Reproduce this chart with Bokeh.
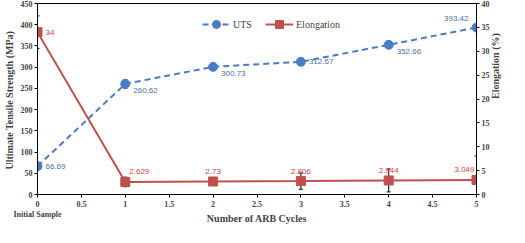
from math import pi
from bokeh.plotting import figure
from bokeh.models import Range1d, LinearAxis, Whisker, ColumnDataSource, Legend, LegendItem, FixedTicker
from bokeh.core.properties import value
from bokeh.embed import file_html
from bokeh.resources import INLINE

cycles = [0, 1, 2, 3, 4, 5]
uts = [66.69, 260.62, 300.73, 312.67, 352.66, 393.42]
uts_err = [5, 10, 8, 7, 4, 3]
elong = [34, 2.629, 2.73, 2.806, 2.944, 3.049]
elong_err = [3.4, 1.0, 0.4, 1.7, 2.4, 5.0]
uts_labels = ["66.69", "260.62", "300.73", "312.67", "352.66", "393.42"]
elong_labels = ["34", "2.629", "2.73", "2.806", "2.944", "3.049"]
x_ticks = [0, 0.5, 1, 1.5, 2, 2.5, 3, 3.5, 4, 4.5, 5]

BLUE = "#4a7cc6"
RED = "#c0504d"
BLUE_TXT = "#4f6fa3"
RED_TXT = "#e8403c"
SERIF = "Liberation Serif"

p = figure(width=509, height=227, output_backend="svg", toolbar_location=None,
           x_range=Range1d(0, 5), y_range=Range1d(0, 450),
           min_border_left=10, min_border_right=10, min_border_top=3, min_border_bottom=5)
p.extra_y_ranges = {"el": Range1d(0, 40)}
p.xgrid.visible = False
p.ygrid.visible = False
p.outline_line_color = "black"
p.outline_line_width = 1
p.background_fill_color = "white"

# axes
p.xaxis.ticker = FixedTicker(ticks=x_ticks)
p.xaxis.major_label_overrides = {0: "0\nInitial Sample"}
p.xaxis.axis_label = "Number of ARB Cycles"
p.yaxis.ticker = FixedTicker(ticks=list(range(0, 451, 50)))
p.yaxis.axis_label = "Ultimate Tensile Strength  (MPa)"
ax_r = LinearAxis(y_range_name="el", ticker=FixedTicker(ticks=list(range(0, 41, 5))),
                  axis_label="Elongation  (%)")
p.add_layout(ax_r, "right")
for ax in [p.xaxis[0], p.yaxis[0], ax_r]:
    ax.axis_label_text_font = SERIF
    ax.axis_label_text_font_style = "bold"
    ax.axis_label_text_font_size = "10px"
    ax.major_label_text_font = SERIF
    ax.major_label_text_font_style = "bold"
    ax.major_label_text_font_size = "8px"
    ax.minor_tick_line_color = None
    ax.major_tick_in = 0
    ax.major_tick_out = 3
    ax.axis_line_color = "black"
    ax.major_tick_line_color = "black"
    ax.major_label_standoff = 2
    ax.axis_label_standoff = 3
p.xaxis[0].axis_label_standoff = -9
ax_r.axis_label_standoff = 3
try:
    ax_r.axis_label_orientation = pi / 2
except Exception:
    pass

# error bars
src_u = ColumnDataSource(dict(x=cycles, lo=[u - e for u, e in zip(uts, uts_err)],
                              hi=[u + e for u, e in zip(uts, uts_err)]))
src_e = ColumnDataSource(dict(x=cycles, lo=[u - e for u, e in zip(elong, elong_err)],
                              hi=[u + e for u, e in zip(elong, elong_err)]))
for src, rn in [(src_u, "default"), (src_e, "el")]:
    w = Whisker(source=src, base="x", lower="lo", upper="hi", dimension="height",
                y_range_name=rn, line_color="black", line_width=1)
    w.upper_head.size = 4
    w.lower_head.size = 4
    w.upper_head.line_color = "black"
    w.lower_head.line_color = "black"
    p.add_layout(w)

# series
lu = p.line(cycles, uts, line_color=BLUE, line_width=2, line_dash="6 4")
mu = p.scatter(cycles, uts, marker="circle", size=9, fill_color=BLUE, line_color=BLUE)
le = p.line(cycles, elong, line_color=RED, line_width=2, y_range_name="el")
me = p.scatter(cycles, elong, marker="square", size=9, fill_color=RED, line_color=RED,
               y_range_name="el")

# data labels
u_dx = [8, 8, 8, 8, 8, -8]
u_dy = [0, 7, 7, 0, 7, -9]
u_al = ["left", "left", "left", "left", "left", "right"]
src_ul = ColumnDataSource(dict(x=cycles, y=uts, t=uts_labels, dx=u_dx, dy=u_dy, al=u_al))
p.text(x="x", y="y", text="t", x_offset="dx", y_offset="dy", text_align="al",
       text_baseline="middle", text_color=BLUE_TXT, text_font_size="8px",
       text_font=value("Liberation Sans"), source=src_ul)
e_dx = [8, 4, 0, 0, 0, -2]
e_dy = [0, -10, -10, -10, -10, -10]
e_al = ["left", "left", "center", "center", "center", "right"]
src_el = ColumnDataSource(dict(x=cycles, y=elong, t=elong_labels, dx=e_dx, dy=e_dy, al=e_al))
p.text(x="x", y="y", text="t", x_offset="dx", y_offset="dy", text_align="al",
       text_baseline="middle", text_color=RED_TXT, text_font_size="8px",
       text_font=value("Liberation Sans"), source=src_el, y_range_name="el")

legend = Legend(items=[LegendItem(label="UTS", renderers=[lu, mu]),
                       LegendItem(label="Elongation", renderers=[le, me])],
                orientation="horizontal", location=(165, 160))
legend.border_line_color = None
legend.background_fill_alpha = 0
legend.label_text_font = SERIF
legend.label_text_font_size = "10px"
legend.glyph_width = 28
legend.spacing = 12
legend.label_standoff = 3
p.add_layout(legend)

open("out.html", "w").write(file_html(p, INLINE))
